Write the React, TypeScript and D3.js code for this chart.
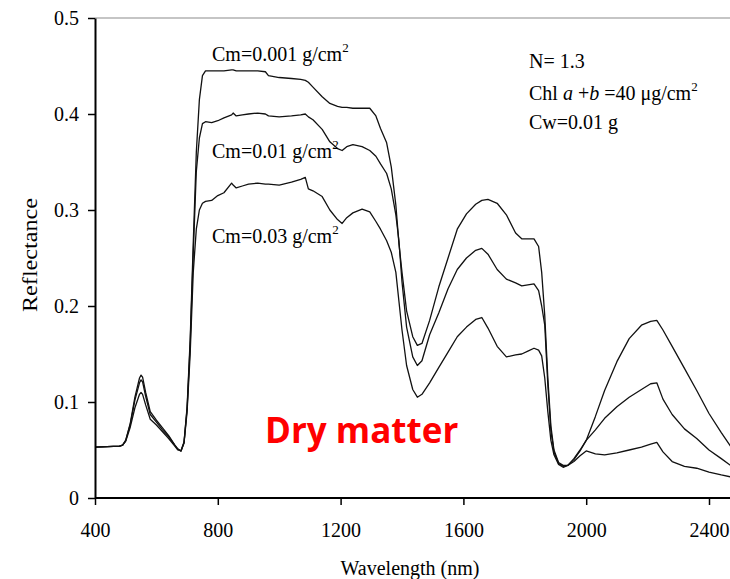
import { useRef, useEffect } from 'react';
import * as d3 from 'd3';

// Spectral grid (nm) shared by the three simulated reflectance curves
const wavelengths = [
  400, 480, 490, 500, 515, 530, 545, 550, 555, 565, 580, 600, 620, 640, 660, 670, 680, 690,
  700, 710, 720, 730, 740, 750, 760, 780, 800, 820, 845, 850, 860, 880, 900, 930, 955, 965,
  1000, 1040, 1070, 1085, 1095, 1110, 1140, 1165, 1190, 1205, 1220, 1240, 1270, 1295, 1315,
  1330, 1350, 1365, 1380, 1390, 1400, 1415, 1435, 1450, 1465, 1490, 1520, 1550, 1580, 1610,
  1640, 1660, 1680, 1710, 1740, 1770, 1790, 1810, 1830, 1845, 1855, 1865, 1875, 1885, 1895,
  1910, 1925, 1940, 1960, 1980, 2000, 2030, 2060, 2100, 2140, 2180, 2210, 2230, 2250, 2280,
  2320, 2360, 2400, 2440, 2470, 2500,
];

// Cm = 0.001 g/cm2
const cm0001 = [
  0.053, 0.054, 0.055, 0.060, 0.078, 0.105, 0.125, 0.128, 0.126, 0.110, 0.090, 0.081, 0.073, 0.065, 0.055, 0.051, 0.049, 0.058,
  0.095, 0.165, 0.265, 0.360, 0.415, 0.440, 0.445, 0.445, 0.445, 0.445, 0.446, 0.446, 0.445, 0.445, 0.445, 0.445, 0.444, 0.440,
  0.438, 0.437, 0.436, 0.435, 0.433, 0.428, 0.418, 0.411, 0.408, 0.407, 0.407, 0.406, 0.406, 0.406, 0.398,
  0.385, 0.370, 0.345, 0.305, 0.265, 0.235, 0.195, 0.168, 0.159, 0.161, 0.185, 0.220, 0.250, 0.280, 0.296,
  0.306, 0.310, 0.311, 0.307, 0.295, 0.276, 0.270, 0.270, 0.270, 0.262, 0.235, 0.190, 0.125, 0.075, 0.050,
  0.037, 0.034, 0.034, 0.040, 0.049, 0.060, 0.085, 0.112, 0.142, 0.166, 0.180, 0.184, 0.185, 0.175, 0.158,
  0.135, 0.112, 0.088, 0.068, 0.054, 0.045,
];

// Cm = 0.01 g/cm2
const cm001 = [
  0.053, 0.054, 0.055, 0.060, 0.077, 0.102, 0.120, 0.123, 0.121, 0.106, 0.087, 0.079, 0.071, 0.064, 0.055, 0.051, 0.049, 0.058,
  0.093, 0.160, 0.255, 0.340, 0.375, 0.390, 0.392, 0.391, 0.393, 0.396, 0.399, 0.401, 0.398, 0.399, 0.400, 0.401, 0.400, 0.398,
  0.397, 0.398, 0.399, 0.400, 0.397, 0.394, 0.384, 0.371, 0.364, 0.362, 0.366, 0.368, 0.366, 0.362, 0.356,
  0.348, 0.338, 0.322, 0.295, 0.268, 0.225, 0.178, 0.147, 0.138, 0.143, 0.170, 0.193, 0.218, 0.238, 0.250,
  0.258, 0.260, 0.254, 0.238, 0.228, 0.224, 0.221, 0.222, 0.223, 0.216, 0.200, 0.180, 0.118, 0.070, 0.048,
  0.036, 0.033, 0.034, 0.041, 0.050, 0.060, 0.071, 0.083, 0.095, 0.105, 0.113, 0.119, 0.120, 0.103, 0.087,
  0.072, 0.062, 0.050, 0.041, 0.034, 0.030,
];

// Cm = 0.03 g/cm2
const cm003 = [
  0.053, 0.054, 0.055, 0.059, 0.074, 0.094, 0.108, 0.110, 0.108, 0.097, 0.082, 0.076, 0.069, 0.062, 0.054, 0.050, 0.049, 0.057,
  0.090, 0.150, 0.235, 0.280, 0.300, 0.307, 0.309, 0.310, 0.315, 0.318, 0.328, 0.326, 0.323, 0.325, 0.327, 0.328, 0.327, 0.327,
  0.326, 0.329, 0.332, 0.334, 0.322, 0.320, 0.314, 0.300, 0.290, 0.286, 0.292, 0.297, 0.301, 0.298, 0.288,
  0.280, 0.268, 0.256, 0.235, 0.205, 0.175, 0.138, 0.113, 0.105, 0.108, 0.120, 0.136, 0.152, 0.168, 0.178,
  0.186, 0.188, 0.177, 0.158, 0.147, 0.149, 0.150, 0.153, 0.156, 0.154, 0.148, 0.125, 0.090, 0.060, 0.045,
  0.035, 0.032, 0.034, 0.038, 0.044, 0.049, 0.046, 0.045, 0.047, 0.050, 0.053, 0.056, 0.058, 0.048, 0.038,
  0.033, 0.031, 0.027, 0.024, 0.022, 0.020,
];

const series = [cm0001, cm001, cm003];

const xTicks = [400, 800, 1200, 1600, 2000, 2400];
const yTicks = [0, 0.1, 0.2, 0.3, 0.4, 0.5];

const curveLabels = [
  { text: 'Cm=0.001 g/cm', baseline: 0.455 },
  { text: 'Cm=0.01 g/cm', baseline: 0.354 },
  { text: 'Cm=0.03 g/cm', baseline: 0.266 },
];

const WIDTH = 730;
const HEIGHT = 579;
const SERIF = '"Liberation Serif", "Times New Roman", serif';

export default function App() {
  const svgRef = useRef<SVGSVGElement>(null);

  useEffect(() => {
    if (!svgRef.current) return;
    const svg = d3.select(svgRef.current);
    svg.selectAll('*').remove();

    // plot area: 400 nm sits on the y axis, 0.5 on the top border
    const left = 95;
    const top = 18;
    const bottom = 498;

    const x = d3.scaleLinear().domain([400, 2400]).range([left, 709]);
    const y = d3.scaleLinear().domain([0, 0.5]).range([bottom, top]);

    // top border (gray frame)
    svg.append('line')
      .attr('x1', left).attr('x2', WIDTH)
      .attr('y1', top).attr('y2', top)
      .attr('stroke', '#8c8c8c')
      .attr('stroke-width', 1.2);

    // curves
    const line = d3.line<number>()
      .x((_, i) => x(wavelengths[i]))
      .y(d => y(d));

    svg.append('g')
      .selectAll('path')
      .data(series)
      .enter().append('path')
      .attr('d', d => line(d))
      .attr('fill', 'none')
      .attr('stroke', '#111')
      .attr('stroke-width', 1.3)
      .attr('stroke-linejoin', 'round');

    // axes
    const xAxis = d3.axisBottom(x).tickValues(xTicks).tickSize(7).tickSizeOuter(0).tickFormat(d3.format('d'));
    const yAxis = d3.axisLeft(y).tickValues(yTicks).tickSize(7).tickSizeOuter(0)
      .tickFormat(d => (d === 0 ? '0' : d3.format('.1f')(d as number)));

    const gx = svg.append('g')
      .attr('transform', `translate(0,${bottom})`)
      .call(xAxis);
    gx.select('.domain').attr('d', `M${left},0H${WIDTH}`);

    const gy = svg.append('g')
      .attr('transform', `translate(${left},0)`)
      .call(yAxis);

    [gx, gy].forEach(g => {
      g.select('.domain').attr('stroke', '#000').attr('stroke-width', 2);
      g.selectAll('.tick line').attr('stroke', '#000').attr('stroke-width', 1.5);
      g.selectAll('.tick text')
        .attr('fill', '#000')
        .style('font-family', SERIF)
        .style('font-size', '20px');
    });
    gx.selectAll('.tick text').attr('y', 0).attr('dy', 0).attr('transform', 'translate(0,39)');
    gy.selectAll('.tick text').attr('x', -16).attr('dy', '0.33em');

    // axis titles
    svg.append('text')
      .attr('x', 410)
      .attr('y', 575)
      .attr('text-anchor', 'middle')
      .style('font-family', SERIF)
      .style('font-size', '20px')
      .text('Wavelength (nm)');

    svg.append('text')
      .attr('transform', `translate(37,255) rotate(-90)`)
      .attr('text-anchor', 'middle')
      .attr('textLength', 114)
      .attr('lengthAdjust', 'spacingAndGlyphs')
      .style('font-family', SERIF)
      .style('font-size', '20px')
      .text('Reflectance');

    // curve annotations
    curveLabels.forEach(l => {
      const t = svg.append('text')
        .attr('x', 212)
        .attr('y', y(l.baseline))
        .style('font-family', SERIF)
        .style('font-size', '20px');
      t.append('tspan').text(l.text);
      t.append('tspan').attr('dy', -9).style('font-size', '13px').text('2');
    });

    // parameter block (top right)
    const info = svg.append('g').style('font-family', SERIF).style('font-size', '20px');
    info.append('text').attr('x', 529).attr('y', 68).text('N= 1.3');
    const chl = info.append('text').attr('x', 529).attr('y', 100);
    chl.append('tspan').text('Chl ');
    chl.append('tspan').style('font-style', 'italic').text('a');
    chl.append('tspan').text(' +');
    chl.append('tspan').style('font-style', 'italic').text('b');
    chl.append('tspan').text(' =40 μg/cm');
    chl.append('tspan').attr('dy', -9).style('font-size', '13px').text('2');
    info.append('text').attr('x', 529).attr('y', 129).text('Cw=0.01 g');

    // big red caption
    svg.append('text')
      .attr('x', 265)
      .attr('y', 443)
      .attr('fill', '#ff0000')
      .style('font-family', '"Open Sans", "Noto Sans", sans-serif')
      .style('font-weight', 700)
      .style('font-size', '35px')
      .text('Dry matter');
  }, []);

  return (
    <svg
      ref={svgRef}
      width={WIDTH}
      height={HEIGHT}
      style={{ position: 'absolute', left: 0, top: 0, background: '#fff' }}
    />
  );
}
